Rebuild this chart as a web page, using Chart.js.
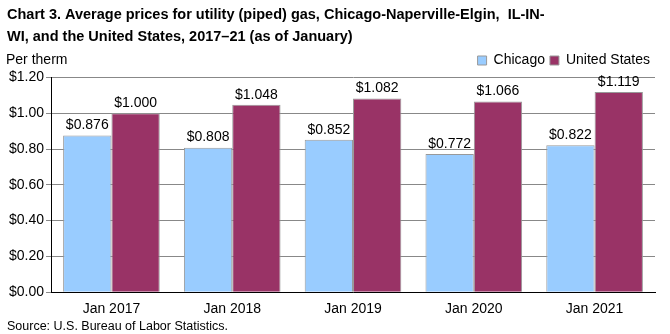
<!DOCTYPE html>
<html>
<head>
<meta charset="utf-8">
<script src="https://cdn.jsdelivr.net/npm/chart.js@4"></script>
<style>
  body { margin: 0; background: #fff; }
  #wrap { width: 670px; height: 334px; }
</style>
</head>
<body>
<div id="wrap"><canvas id="grafico"></canvas></div>
<script>
const anos = ["Jan 2017", "Jan 2018", "Jan 2019", "Jan 2020", "Jan 2021"]
const chicago = [0.876, 0.808, 0.852, 0.772, 0.822]
const estadosUnidos = [1.000, 1.048, 1.082, 1.066, 1.119]

const fonte = "'Liberation Sans', Arial, sans-serif"

// rotulos em cima das barras + "Per therm"
const rotulos = {
    id: 'rotulos',
    afterDatasetsDraw(chart) {
        const ctx = chart.ctx
        ctx.save()
        ctx.font = "14px " + fonte
        ctx.fillStyle = "#000"
        ctx.textAlign = "center"
        ctx.textBaseline = "bottom"
        chart.data.datasets.forEach((ds, i) => {
            chart.getDatasetMeta(i).data.forEach((bar, j) => {
                ctx.fillText("$" + ds.data[j].toFixed(3), bar.x, bar.y - 3)
            })
        })
        ctx.textAlign = "left"
        ctx.textBaseline = "middle"
        ctx.fillText("Per therm", 6, 60)
        ctx.restore()
    }
}

new Chart(document.getElementById("grafico"), {
    type: 'bar',
    data: {
        labels: anos,
        datasets: [{
            label: 'Chicago',
            data: chicago,
            backgroundColor: '#99ccff',
            borderColor: '#999999',
            borderWidth: 1
        }, {
            label: 'United States',
            data: estadosUnidos,
            backgroundColor: '#993366',
            borderColor: '#999999',
            borderWidth: 1
        }]
    },
    plugins: [rotulos],
    options: {
        responsive: true,
        maintainAspectRatio: false,
        animation: false,
        datasets: { bar: { categoryPercentage: 0.8, barPercentage: 1.0 } },
        layout: { padding: { left: 7, right: 15, top: 0, bottom: 0 } },
        plugins: {
            title: {
                display: true,
                text: ["Chart 3. Average prices for utility (piped) gas, Chicago-Naperville-Elgin,  IL-IN-",
                       "WI, and the United States, 2017\u201321 (as of January)"],
                align: 'start',
                color: '#000',
                font: { family: fonte, size: 14.5, weight: 'bold', lineHeight: 1.5 },
                padding: { top: 4, bottom: 1 }
            },
            subtitle: {
                display: true,
                text: "Source: U.S. Bureau of Labor Statistics.",
                position: 'bottom',
                align: 'start',
                color: '#000',
                font: { family: fonte, size: 12.5 },
                padding: { top: 0, bottom: 0 }
            },
            legend: {
                position: 'top',
                align: 'end',
                labels: {
                    color: '#000',
                    font: { family: fonte, size: 14 },
                    boxWidth: 9,
                    boxHeight: 9,
                    padding: 5
                }
            },
            tooltip: { enabled: false }
        },
        scales: {
            x: {
                grid: { display: false },
                border: { color: '#000', width: 1 },
                ticks: { color: '#000', font: { family: fonte, size: 14 }, padding: 1 }
            },
            y: {
                min: 0,
                max: 1.2,
                ticks: {
                    stepSize: 0.2,
                    color: '#000',
                    font: { family: fonte, size: 14 },
                    padding: 2,
                    callback: v => "$" + v.toFixed(2)
                },
                grid: { color: '#888', tickLength: 5, tickColor: '#888' },
                border: { color: '#000', width: 1 }
            }
        }
    }
})
</script>
</body>
</html>
